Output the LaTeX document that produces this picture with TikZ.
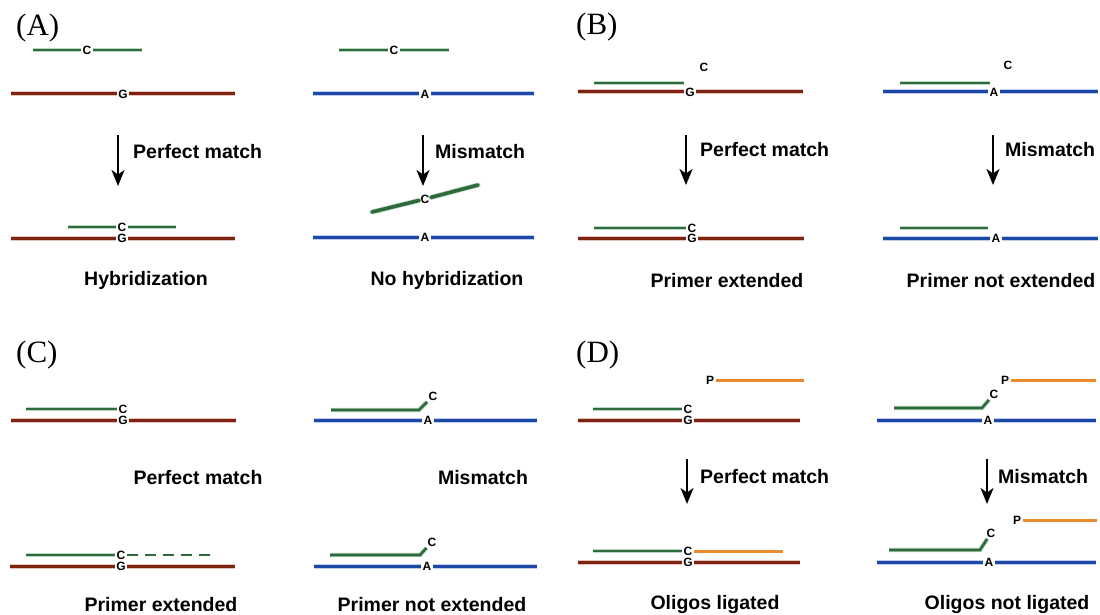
\documentclass[tikz,border=0pt]{standalone}
\usepackage{fontspec}
\setmainfont{Liberation Serif}
\setsansfont{Liberation Sans}
\usetikzlibrary{arrows.meta}
\definecolor{dred}{HTML}{7E2212}
\definecolor{lred}{HTML}{E6C3BC}
\definecolor{dblue}{HTML}{1C48A6}
\definecolor{lblue}{HTML}{BFCDEA}
\definecolor{dgreen}{HTML}{2E6B3C}
\definecolor{lgreen}{HTML}{BBD6C1}
\definecolor{dorange}{HTML}{E98A2C}
\begin{document}
\begin{tikzpicture}[x=1pt,y=-1pt,
  redstrand/.style={draw=dred,line width=3pt,preaction={draw=lred,line width=5pt}},
  bluestrand/.style={draw=dblue,line width=3pt,preaction={draw=lblue,line width=5pt}},
  greenstrand/.style={draw=dgreen,line width=2.6pt,preaction={draw=lgreen,line width=4.4pt}},
  tiltstrand/.style={draw=dgreen,line width=3.6pt,line cap=round,preaction={draw=lgreen,line width=5pt,line cap=round}},
  orangestrand/.style={draw=dorange,line width=3pt},
  nt/.style={font=\sffamily\bfseries\fontsize{12}{12}\selectfont,inner sep=1.5pt},
  lab/.style={font=\sffamily\bfseries\fontsize{19.5}{22}\selectfont,inner sep=0pt,anchor=base},
  labw/.style={lab,anchor=base west},
  panel/.style={font=\rmfamily\fontsize{31}{34}\selectfont,inner sep=0pt,anchor=base west},
  arr/.style={line width=2pt,-{Stealth[length=16pt,width=13pt,inset=4.5pt]}}
]
\useasboundingbox (0,0) rectangle (1100,615);

% ================= Panel A =================
\node[panel] (pA) at (16,36) {(A)};
% left, top
\coordinate (a1) at (33,50); \node[nt] (aC1) at (87,50) {C}; \coordinate (a2) at (142,50);
\draw[greenstrand] (a1) -- (aC1) -- (a2);
\coordinate (a3) at (11,94); \node[nt] (aG1) at (123,94) {G}; \coordinate (a4) at (235,94);
\draw[redstrand] (a3) -- (aG1) -- (a4);
\coordinate (aar1s) at (118,135); \coordinate (aar1e) at (118,186);
\draw[arr] (aar1s) -- (aar1e);
\node[labw] (aL1) at (133,158) {Perfect match};
% left, bottom
\coordinate (a5) at (68,227); \node[nt] (aC2) at (122,227) {C}; \coordinate (a6) at (176,227);
\draw[greenstrand] (a5) -- (aC2) -- (a6);
\coordinate (a7) at (11,238); \node[nt] (aG2) at (122,238) {G}; \coordinate (a8) at (235,238);
\draw[redstrand] (a7) -- (aG2) -- (a8);
\node[lab] (aL2) at (146,285) {Hybridization};
% right, top
\coordinate (a9) at (339,50); \node[nt] (aC3) at (394,50) {C}; \coordinate (a10) at (449,50);
\draw[greenstrand] (a9) -- (aC3) -- (a10);
\coordinate (a11) at (313,94); \node[nt] (aA1) at (425,94) {A}; \coordinate (a12) at (534,94);
\draw[bluestrand] (a11) -- (aA1) -- (a12);
\coordinate (aar2s) at (423,135); \coordinate (aar2e) at (423,186);
\draw[arr] (aar2s) -- (aar2e);
\node[labw] (aL3) at (435,158) {Mismatch};
% right, bottom
\coordinate (a13) at (372,212); \node[nt] (aC4) at (425,199) {C}; \coordinate (a14) at (478,185);
\draw[tiltstrand] (a13) -- (aC4) -- (a14);
\coordinate (a15) at (313,237); \node[nt] (aA2) at (425,237) {A}; \coordinate (a16) at (534,237);
\draw[bluestrand] (a15) -- (aA2) -- (a16);
\node[lab] (aL4) at (447,285) {No hybridization};

% ================= Panel B =================
\node[panel] (pB) at (576,35) {(B)};
% left, top
\coordinate (b1) at (594,83); \coordinate (b2) at (684,83);
\draw[greenstrand] (b1) -- (b2);
\node[nt] (bC1) at (704,67) {C};
\coordinate (b3) at (578,92); \node[nt] (bG1) at (690,92) {G}; \coordinate (b4) at (803,92);
\draw[redstrand] (b3) -- (bG1) -- (b4);
\coordinate (bar1s) at (686,135); \coordinate (bar1e) at (686,185);
\draw[arr] (bar1s) -- (bar1e);
\node[labw] (bL1) at (700,157) {Perfect match};
% left, bottom
\coordinate (b5) at (594,228); \node[nt] (bC2) at (692,228) {C};
\draw[greenstrand] (b5) -- (bC2);
\coordinate (b6) at (578,238); \node[nt] (bG2) at (692,238) {G}; \coordinate (b7) at (804,238);
\draw[redstrand] (b6) -- (bG2) -- (b7);
\node[lab] (bL2) at (727,287) {Primer extended};
% right, top
\coordinate (b8) at (900,83); \coordinate (b9) at (990,83);
\draw[greenstrand] (b8) -- (b9);
\node[nt] (bC3) at (1008,65) {C};
\coordinate (b10) at (883,92); \node[nt] (bA1) at (994,92) {A}; \coordinate (b11) at (1098,92);
\draw[bluestrand] (b10) -- (bA1) -- (b11);
\coordinate (bar2s) at (993,135); \coordinate (bar2e) at (993,185);
\draw[arr] (bar2s) -- (bar2e);
\node[labw] (bL3) at (1005,157) {Mismatch};
% right, bottom
\coordinate (b12) at (900,228); \coordinate (b13) at (988,228);
\draw[greenstrand] (b12) -- (b13);
\coordinate (b14) at (883,238); \node[nt] (bA2) at (996,238) {A}; \coordinate (b15) at (1098,238);
\draw[bluestrand] (b14) -- (bA2) -- (b15);
\node[lab] (bL4) at (1001,287) {Primer not extended};

% ================= Panel C =================
\node[panel] (pC) at (16,362) {(C)};
% left, top
\coordinate (c1) at (26,409); \node[nt] (cC1) at (123,409) {C};
\draw[greenstrand] (c1) -- (cC1);
\coordinate (c2) at (11,420); \node[nt] (cG1) at (123,420) {G}; \coordinate (c3) at (236,420);
\draw[redstrand] (c2) -- (cG1) -- (c3);
\node[lab] (cL1) at (198,484) {Perfect match};
% right, top
\coordinate (c4) at (331,410); \coordinate (c5) at (419,410); \node[nt] (cC2) at (433,396) {C};
\draw[greenstrand] (c4) -- (c5) -- (cC2);
\coordinate (c6) at (314,420); \node[nt] (cA1) at (428,420) {A}; \coordinate (c7) at (537,420);
\draw[bluestrand] (c6) -- (cA1) -- (c7);
\node[lab] (cL2) at (483,484) {Mismatch};
% left, bottom
\coordinate (c8) at (26,555); \node[nt] (cC3) at (121,555) {C}; \coordinate (c9) at (212,555);
\draw[greenstrand] (c8) -- (cC3);
\draw[draw=dgreen,line width=2.6pt,dash pattern=on 11pt off 7pt] (cC3) -- (c9);
\coordinate (c10) at (10,566); \node[nt] (cG2) at (121,566) {G}; \coordinate (c11) at (235,566);
\draw[redstrand] (c10) -- (cG2) -- (c11);
\node[lab] (cL3) at (161,611) {Primer extended};
% right, bottom
\coordinate (c12) at (330,555); \coordinate (c13) at (420,555); \node[nt] (cC4) at (432,542) {C};
\draw[greenstrand] (c12) -- (c13) -- (cC4);
\coordinate (c14) at (314,566); \node[nt] (cA2) at (427,566) {A}; \coordinate (c15) at (537,566);
\draw[bluestrand] (c14) -- (cA2) -- (c15);
\node[lab] (cL4) at (432,611) {Primer not extended};

% ================= Panel D =================
\node[panel] (pD) at (576,362) {(D)};
% left, top
\node[nt] (dP1) at (710,380) {P}; \coordinate (d1) at (804,380);
\draw[orangestrand] (dP1) -- (d1);
\coordinate (d2) at (593,409); \node[nt] (dC1) at (688,409) {C};
\draw[greenstrand] (d2) -- (dC1);
\coordinate (d3) at (578,420); \node[nt] (dG1) at (688,420) {G}; \coordinate (d4) at (800,420);
\draw[redstrand] (d3) -- (dG1) -- (d4);
\coordinate (dar1s) at (687,459); \coordinate (dar1e) at (687,504);
\draw[arr] (dar1s) -- (dar1e);
\node[labw] (dL1) at (700,483) {Perfect match};
% left, bottom
\coordinate (d5) at (593,551); \node[nt] (dC2) at (688,551) {C}; \coordinate (d6) at (783,551);
\draw[greenstrand] (d5) -- (dC2);
\draw[orangestrand] (dC2) -- (d6);
\coordinate (d7) at (578,562); \node[nt] (dG2) at (688,562) {G}; \coordinate (d8) at (800,562);
\draw[redstrand] (d7) -- (dG2) -- (d8);
\node[lab] (dL2) at (715,609) {Oligos ligated};
% right, top
\node[nt] (dP2) at (1005,380) {P}; \coordinate (d9) at (1096,380);
\draw[orangestrand] (dP2) -- (d9);
\coordinate (d10) at (894,408); \coordinate (d11) at (982,408); \node[nt] (dC3) at (994,394) {C};
\draw[greenstrand] (d10) -- (d11) -- (dC3);
\coordinate (d12) at (877,420); \node[nt] (dA1) at (988,420) {A}; \coordinate (d13) at (1096,420);
\draw[bluestrand] (d12) -- (dA1) -- (d13);
\coordinate (dar2s) at (987,459); \coordinate (dar2e) at (987,504);
\draw[arr] (dar2s) -- (dar2e);
\node[labw] (dL3) at (998,483) {Mismatch};
% right, bottom
\node[nt] (dP3) at (1017,520) {P}; \coordinate (d14) at (1097,520);
\draw[orangestrand] (dP3) -- (d14);
\coordinate (d15) at (889,550); \coordinate (d16) at (980,550); \node[nt] (dC4) at (991,533) {C};
\draw[greenstrand] (d15) -- (d16) -- (dC4);
\coordinate (d17) at (877,562); \node[nt] (dA2) at (989,562) {A}; \coordinate (d18) at (1096,562);
\draw[bluestrand] (d17) -- (dA2) -- (d18);
\node[lab] (dL4) at (1007,609) {Oligos not ligated};
\end{tikzpicture}
\end{document}
